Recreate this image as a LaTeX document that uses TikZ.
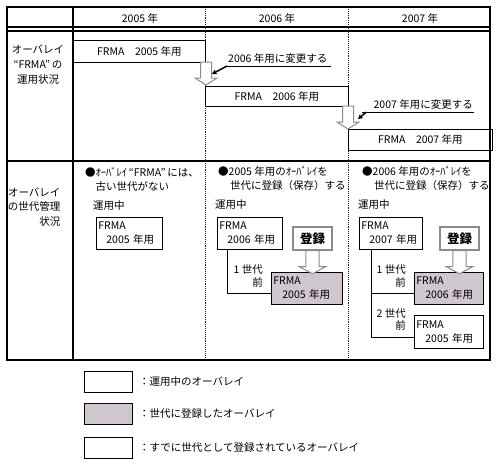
\documentclass[tikz,border=0pt]{standalone}
\usepackage{fontspec}
\setmainfont{Noto Sans CJK JP}
\usepackage{tikz}
\usetikzlibrary{arrows.meta,positioning}
\definecolor{ovRegFill}{HTML}{CFC6CF}
\definecolor{ovArrowLine}{HTML}{8C8C8C}
\definecolor{ovGrid}{HTML}{202020}
\tikzset{
  ov diagram/.style={x=1pt, y=-1pt, font=\fontsize{10.5}{13}\selectfont,
    line join=miter},
  ov frame/.style={draw=black, line width=1.6pt},
  ov rule/.style={draw=black, line width=1.2pt},
  ov col/.style={draw=ovGrid, line width=0.9pt, densely dotted},
  ov band/.style={draw=black, line width=0.8pt, fill=white, anchor=north west,
    inner sep=0pt},
  ov box/.style={draw=black, line width=0.8pt, fill=white, anchor=north west,
    align=left, text width=#1, inner xsep=2pt, inner ysep=1pt,
    minimum height=32pt, font=\fontsize{10.5}{14}\selectfont},
  ov reg box/.style={ov box=#1, fill=ovRegFill},
  ov stamp/.style={draw=ovArrowLine, line width=1.4pt, fill=white,
    minimum width=39pt, minimum height=23pt, inner sep=0pt,
    font=\fontsize{12.5}{13}\selectfont\bfseries},
  ov change/.style={inner ysep=2.5pt},
  ov pointer/.style={-{Stealth[length=5pt,width=5.5pt]}, draw=black, line width=1.5pt},
  ov link/.style={draw=black, line width=0.8pt},
  ov block/.style={draw=ovArrowLine, line width=1pt, fill=white},
  ov note/.style={anchor=west, align=left, inner sep=0pt,
    font=\fontsize{10.5}{14}\selectfont},
  ov gen/.style={anchor=east, align=right, inner sep=0pt,
    font=\fontsize{10.5}{12.5}\selectfont},
  ov legend/.style={draw=black, line width=1pt, anchor=north west,
    minimum width=48pt, minimum height=21pt, inner sep=0pt},
  down block/.pic={
    \path[ov block] (-5.5,0) -- (5.5,0) -- (5.5,16) -- (11,16) -- (0,23)
      -- (-11,16) -- (-5.5,16) -- cycle;
  }
}

\begin{document}
\begin{tikzpicture}[ov diagram]
\useasboundingbox (0,0) rectangle (498,464);

% table grid
\draw[ov col] (205,7) -- (205,360);
\draw[ov col] (348,7) -- (348,360);
\draw[ov rule] (73,7) -- (73,360);
\draw[ov rule] (7,27) -- (490,27);
\draw[ov rule] (7,31) -- (490,31);
\draw[ov rule] (7,161) -- (490,161);

\node (hd05) at (140,18) {2005 年};
\node (hd06) at (277,18) {2006 年};
\node (hd07) at (420,18) {2007 年};

% row labels
\node[align=center, font=\fontsize{10.5}{15}\selectfont] (opLabel) at (38,65)
  {オーバレイ\\“FRMA”\,の\\運用状況};
\node[align=right, anchor=east, font=\fontsize{10.5}{14.5}\selectfont] (genLabel)
  at (64,207) {オーバレイ\\の世代管理\\状況};

% operation bands
\node[ov band, minimum width=132pt, minimum height=22pt] (ops05) at (73,40)
  {FRMA　2005 年用};
\node[ov band, minimum width=143pt, minimum height=20pt] (ops06) at (205,86)
  {FRMA　2006 年用};
\node[ov band, minimum width=144pt, minimum height=21pt] (ops07) at (348,129)
  {FRMA　2007 年用};

\pic at (206,62) {down block};
\pic at (348,106) {down block};

\node[ov change, anchor=south west, inner xsep=3pt] (chg06) at (225,66)
  {2006 年用に変更する};
\coordinate (tip06) at (212,74);
\draw[ov link] (chg06.south west) -- (chg06.south east);
\draw[ov pointer] ([xshift=2pt]chg06.south west) -- (tip06);

\node[ov change, anchor=south east, inner xsep=1pt] (chg07) at (474,112)
  {2007 年用に変更する};
\coordinate (tip07) at (358,119);
\draw[ov link] ([xshift=-10pt]chg07.south west) -- (chg07.south east);
\draw[ov pointer] ([xshift=-6pt]chg07.south west) -- (tip07);

% generation column 2005
\node[ov note] (note05) at (85,179.5)
  {●ｵｰﾊﾞﾚｲ\,“FRMA”\,には、\\\hspace*{1em}古い世代がない};
\node[anchor=west, inner sep=0pt] (run05) at (93,206) {運用中};
\node[ov box=62pt] (cur05) at (96,217) {FRMA\\\hspace*{8pt}2005 年用};

% generation column 2006
\node[ov note] (note06) at (218,178.5)
  {●2005 年用のｵｰﾊﾞﾚｲを\\\hspace*{12pt}世代に登録（保存）する};
\node[anchor=west, inner sep=0pt] (run06) at (215,205) {運用中};
\node[ov box=61pt] (cur06) at (217,217) {FRMA\\\hspace*{8pt}2006 年用};
\node[ov stamp] (stamp06) at (312.5,238.5) {登録};
\node[ov reg box=67pt] (reg06) at (271,272) {FRMA\\\hspace*{9pt}2005 年用};
\pic[xscale=1.2] at (stamp06.south) {down block};
\node[ov gen] (gen06a) at (263,276) {1 世代\\前};
\draw[ov link] (cur06.south west) ++(10,0) |- ([yshift=-5pt]reg06.west);

% generation column 2007
\node[ov note] (note07) at (362,178.5)
  {●2006 年用のｵｰﾊﾞﾚｲを\\\hspace*{12pt}世代に登録（保存）する};
\node[anchor=west, inner sep=0pt] (run07) at (358,205) {運用中};
\node[ov box=59pt] (cur07) at (359,217) {FRMA\\\hspace*{8pt}2007 年用};
\node[ov stamp] (stamp07) at (459.5,238.5) {登録};
\node[ov reg box=65pt] (reg07) at (414,272) {FRMA\\\hspace*{9pt}2006 年用};
\node[ov box=65pt, minimum height=33pt] (old07) at (414,315)
  {FRMA\\\hspace*{9pt}2005 年用};
\pic[xscale=1.2] at (stamp07.south) {down block};
\node[ov gen] (gen07a) at (406,276) {1 世代\\前};
\node[ov gen] (gen07b) at (406,319.5) {2 世代\\前};
\draw[ov link] (cur07.south west) ++(12,0) coordinate (br07)
  |- ([yshift=-5pt]old07.west);
\draw[ov link] (br07) |- ([yshift=-5pt]reg07.west);

\draw[ov frame] (7,7) rectangle (490,360);

% legend
\node[ov legend] (key1) at (84,371) {};
\node[ov legend, fill=ovRegFill] (key2) at (84,403) {};
\node[ov legend] (key3) at (84,437) {};
\node[right=6pt of key1, inner sep=0pt] (key1txt) {：運用中のオーバレイ};
\node[right=6pt of key2, inner sep=0pt] (key2txt) {：世代に登録したオーバレイ};
\node[right=6pt of key3, inner sep=0pt] (key3txt) {：すでに世代として登録されているオーバレイ};
\end{tikzpicture}
\end{document}
